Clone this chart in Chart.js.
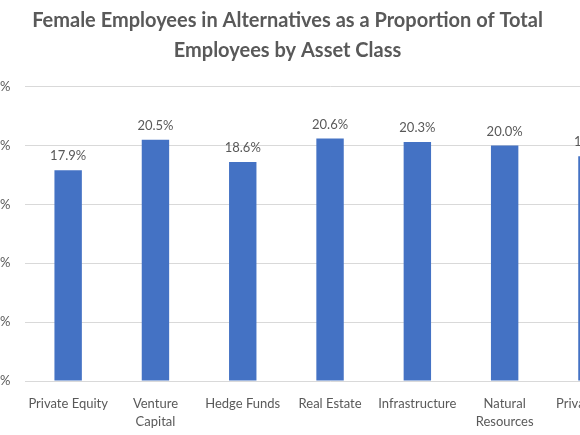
<!DOCTYPE html>
<html>
<head>
<meta charset="utf-8">
<script src="https://cdn.jsdelivr.net/npm/chart.js@4.4.1/dist/chart.umd.min.js"></script>
<style>
  html, body { margin: 0; padding: 0; background: #ffffff; overflow: hidden; }
  body { width: 580px; height: 435px; position: relative; }
  /* the reference is a crop of a wider chart, so the canvas sticks out on both sides */
  #chart { position: absolute; left: -70px; top: 0; }
</style>
</head>
<body>
<canvas id="chart" width="720" height="435"></canvas>
<script>
// data
const assetClasses = [
  "Private Equity",
  ["Venture", "Capital"],
  "Hedge Funds",
  "Real Estate",
  "Infrastructure",
  ["Natural", "Resources"],
  "Private Debt"
];
const femaleShare = [17.9, 20.5, 18.6, 20.6, 20.3, 20.0, 19.1];
const yTicks = [0, 5, 10, 15, 20, 25];

const textGrey = "#595959";
const barBlue = "#4472C4";

// value labels above each bar
const barLabels = {
  id: "barLabels",
  afterDatasetsDraw(chart) {
    const ctx = chart.ctx;
    const meta = chart.getDatasetMeta(0);
    ctx.save();
    ctx.font = "13px Lato";
    ctx.fillStyle = textGrey;
    ctx.textAlign = "center";
    ctx.textBaseline = "middle";
    meta.data.forEach((bar, i) => {
      ctx.fillText(femaleShare[i].toFixed(1) + "%", bar.x, bar.y - 14);
    });
    ctx.restore();
  }
};

new Chart("chart", {
  type: "bar",
  data: {
    labels: assetClasses,
    datasets: [{
      data: femaleShare,
      backgroundColor: barBlue,
      borderWidth: 0,
      categoryPercentage: 1,
      barPercentage: 0.314
    }]
  },
  options: {
    responsive: false,
    animation: false,
    layout: { padding: { left: 9.4, right: 14.4, top: 0, bottom: 0 } },
    plugins: {
      legend: { display: false },
      tooltip: { enabled: false },
      title: {
        display: true,
        text: ["Female Employees in Alternatives as a Proportion of Total", "Employees by Asset Class"],
        color: textGrey,
        font: { family: "Lato", size: 20, weight: "bold", lineHeight: 1.5 },
        padding: { top: 5.5, bottom: 21.2 }
      }
    },
    scales: {
      x: {
        grid: { display: false },
        border: { display: false },
        ticks: {
          color: textGrey,
          font: { family: "Lato", size: 13, lineHeight: 1.35 },
          padding: 6,
          maxRotation: 0,
          autoSkip: false
        },
        afterFit: s => { s.height = 54; }
      },
      y: {
        min: 0,
        max: 25,
        afterBuildTicks: s => { s.ticks = yTicks.map(v => ({ value: v })); },
        grid: { color: "#d9d9d9", lineWidth: 1, drawTicks: false },
        border: { display: false },
        ticks: {
          color: textGrey,
          font: { family: "Lato", size: 13 },
          padding: 14,
          callback: v => v + "%"
        },
        afterFit: s => { s.width = 85.1; }
      }
    }
  },
  plugins: [barLabels]
});
</script>
</body>
</html>
